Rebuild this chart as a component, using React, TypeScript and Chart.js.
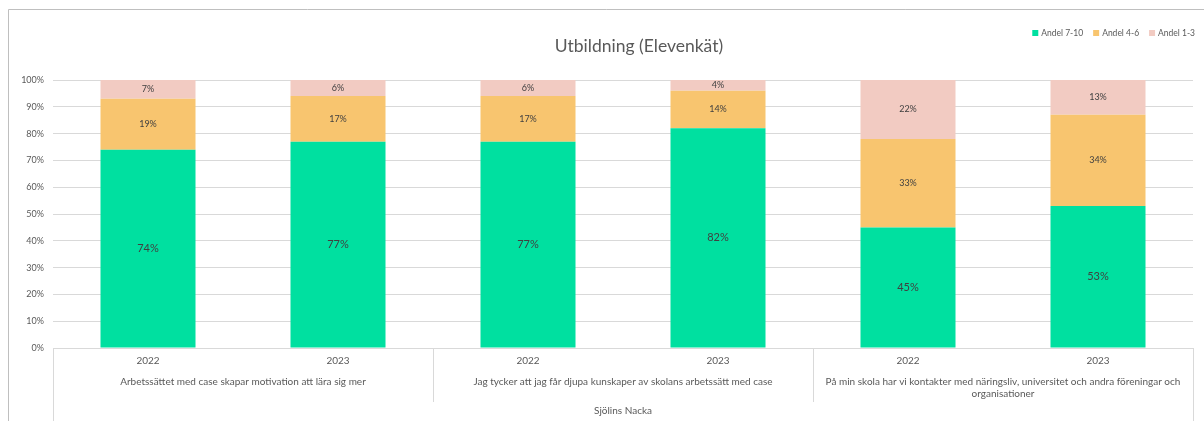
import React, { useEffect, useRef } from "react";
import { Chart, registerables } from "chart.js";

Chart.register(...registerables);

const categories = ["2022", "2023", "2022", "2023", "2022", "2023"];
const groupLabels: string[][] = [
  ["Arbetssättet med case skapar motivation att lära sig mer"],
  ["Jag tycker att jag får djupa kunskaper av skolans arbetssätt med case"],
  ["På min skola har vi kontakter med näringsliv, universitet och andra föreningar och", "organisationer"],
];
const groupSizes = [2, 2, 2];
const outerLabel = "Sjölins Nacka";
const chartTitle = "Utbildning (Elevenkät)";
const seriesNames = ["Andel 7-10", "Andel 4-6", "Andel 1-3"];
const andel710 = [74, 77, 77, 82, 45, 53];
const andel46 = [19, 17, 17, 14, 33, 34];
const andel13 = [7, 6, 6, 4, 22, 13];
const yTicks = [0, 10, 20, 30, 40, 50, 60, 70, 80, 90, 100];

const COLORS = ["#00E0A0", "#F8C56F", "#F2CBC2"];
const FONT = "Lato, 'Open Sans', sans-serif";
const GRID = "#D9D9D9";
const TEXT = "#595959";

const overlay = {
  id: "overlay",
  afterDraw(chart: any) {
    const ctx = chart.ctx;
    const area = chart.chartArea;
    const xs = chart.scales.x;
    const n = categories.length;
    const catW = (area.right - area.left) / n;
    ctx.save();

    // outer chart border
    ctx.strokeStyle = "#BFBFBF";
    ctx.lineWidth = 1;
    ctx.beginPath();
    ctx.moveTo(8.5, chart.height);
    ctx.lineTo(8.5, 9.5);
    ctx.lineTo(chart.width, 9.5);
    ctx.stroke();

    // multi-level axis lines
    ctx.strokeStyle = GRID;
    ctx.beginPath();
    const l = Math.round(area.left) + 0.5;
    const r = Math.round(area.right) + 0.5;
    ctx.moveTo(l, area.bottom);
    ctx.lineTo(l, chart.height);
    ctx.moveTo(r, area.bottom);
    ctx.lineTo(r, chart.height);
    let idx = 0;
    const groupBounds: [number, number][] = [];
    groupSizes.forEach((s) => {
      const gl = xs.getPixelForValue(idx) - catW / 2;
      const gr = xs.getPixelForValue(idx + s - 1) + catW / 2;
      groupBounds.push([gl, gr]);
      idx += s;
    });
    groupBounds.forEach(([gl], i) => {
      if (i > 0) {
        const x = Math.round(gl) + 0.5;
        ctx.moveTo(x, area.bottom);
        ctx.lineTo(x, area.bottom + 54);
      }
    });
    ctx.stroke();

    // group labels
    ctx.fillStyle = TEXT;
    ctx.textAlign = "center";
    ctx.textBaseline = "middle";
    ctx.font = `10px ${FONT}`;
    groupBounds.forEach(([gl, gr], i) => {
      groupLabels[i].forEach((line, j) => {
        ctx.fillText(line, (gl + gr) / 2, area.bottom + 34 + j * 12);
      });
    });
    ctx.fillText(outerLabel, (area.left + area.right) / 2, area.bottom + 63);

    // data labels
    chart.data.datasets.forEach((ds: any, di: number) => {
      const meta = chart.getDatasetMeta(di);
      meta.data.forEach((bar: any, i: number) => {
        const v = ds.data[i];
        const cy = (bar.y + bar.base) / 2;
        ctx.fillStyle = "#404040";
        ctx.font = di === 0 ? `11px ${FONT}` : `9px ${FONT}`;
        ctx.fillText(`${v}%`, bar.x, cy);
      });
    });

    // title
    ctx.fillStyle = TEXT;
    ctx.font = `17.5px ${FONT}`;
    ctx.fillText(chartTitle, 639, 46);

    // legend (right aligned)
    ctx.font = `8.5px ${FONT}`;
    ctx.textAlign = "left";
    const box = 6;
    const gapBox = 3;
    const gapItem = 10;
    const widths = seriesNames.map((s) => ctx.measureText(s).width);
    const total = widths.reduce((a, w) => a + box + gapBox + w, 0) + gapItem * (seriesNames.length - 1);
    let x = 1195 - total;
    const ly = 33;
    seriesNames.forEach((s, i) => {
      ctx.fillStyle = COLORS[i];
      ctx.fillRect(x, ly - box / 2, box, box);
      x += box + gapBox;
      ctx.fillStyle = TEXT;
      ctx.fillText(s, x, ly);
      x += widths[i] + gapItem;
    });

    ctx.restore();
  },
};

export default function App() {
  const ref = useRef<HTMLCanvasElement | null>(null);
  useEffect(() => {
    if (!ref.current) return;
    const chart = new Chart(ref.current, {
      type: "bar",
      data: {
        labels: categories,
        datasets: [
          { label: seriesNames[0], data: andel710, backgroundColor: COLORS[0] },
          { label: seriesNames[1], data: andel46, backgroundColor: COLORS[1] },
          { label: seriesNames[2], data: andel13, backgroundColor: COLORS[2] },
        ],
      },
      options: {
        animation: false,
        responsive: true,
        maintainAspectRatio: false,
        datasets: { bar: { categoryPercentage: 1, barPercentage: 0.5 } },
        layout: { padding: { left: 8, right: 11, top: 80, bottom: 0 } },
        plugins: { legend: { display: false }, title: { display: false }, tooltip: { enabled: false } },
        scales: {
          x: {
            stacked: true,
            grid: { display: false, drawTicks: false },
            border: { display: false },
            ticks: { color: TEXT, font: { family: FONT, size: 10 }, padding: 7, maxRotation: 0, autoSkip: false },
            afterFit: (s: any) => { s.height = 73; },
          },
          y: {
            stacked: true,
            min: 0,
            max: 100,
            afterBuildTicks: (s: any) => { s.ticks = yTicks.map((v) => ({ value: v })); },
            grid: { color: GRID, drawTicks: false },
            border: { display: false },
            ticks: { color: TEXT, font: { family: FONT, size: 9 }, padding: 9, callback: (v: any) => `${v}%` },
            afterFit: (s: any) => { s.width = 45; },
          },
        },
      },
      plugins: [overlay],
    });
    return () => chart.destroy();
  }, []);
  return (
    <div style={{ position: "absolute", left: 0, top: 0, width: 1204, height: 421, background: "#fff" }}>
      <canvas ref={ref} />
    </div>
  );
}
